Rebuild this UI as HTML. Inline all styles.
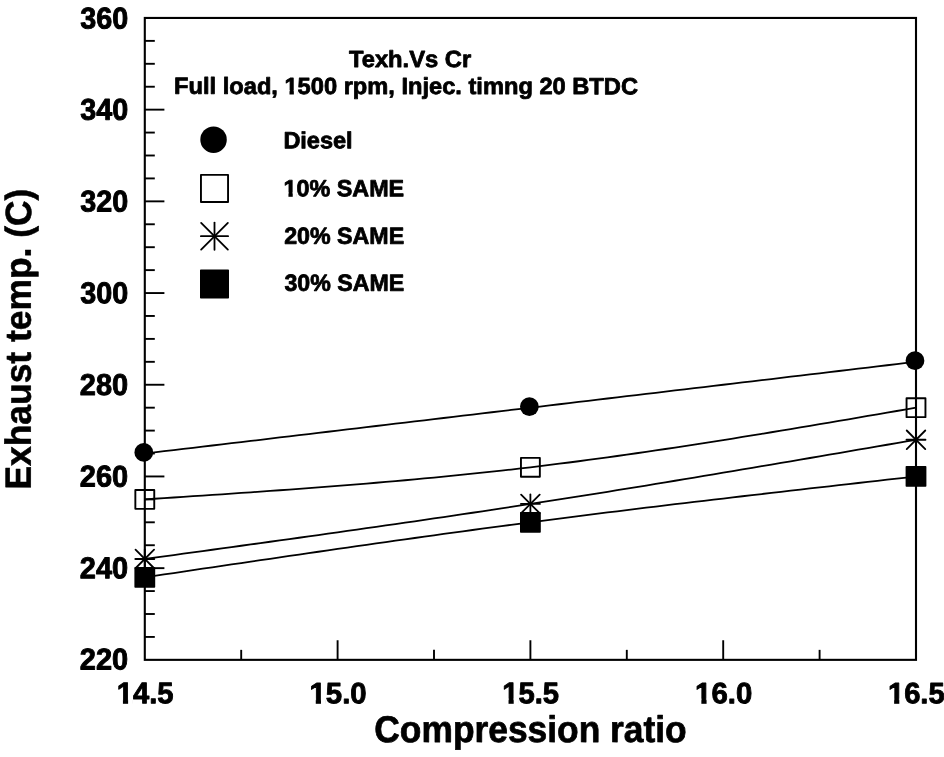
<!DOCTYPE html>
<html lang="en"><head><meta charset="utf-8"><title>Exhaust temp vs Compression ratio</title>
<style>html,body{margin:0;padding:0;background:#fff;}svg{will-change:transform}svg text{font-family:"Liberation Sans",sans-serif;font-weight:bold;}</style></head>
<body>
<svg width="944" height="757" viewBox="0 0 944 757" style="display:block">
<rect width="944" height="757" fill="#fff"/>
<g stroke="#000" stroke-width="2.1" fill="none" stroke-linecap="butt">
<rect x="144.8" y="17.95" width="771.2" height="641.9" stroke-linejoin="miter"/>
<line x1="144.8" y1="636.93" x2="154.8" y2="636.93" stroke-width="1.9"/>
<line x1="144.8" y1="614.00" x2="154.8" y2="614.00" stroke-width="1.9"/>
<line x1="144.8" y1="591.08" x2="154.8" y2="591.08" stroke-width="1.9"/>
<line x1="144.8" y1="568.15" x2="164.4" y2="568.15" stroke-width="1.9"/>
<line x1="144.8" y1="545.23" x2="154.8" y2="545.23" stroke-width="1.9"/>
<line x1="144.8" y1="522.30" x2="154.8" y2="522.30" stroke-width="1.9"/>
<line x1="144.8" y1="499.38" x2="154.8" y2="499.38" stroke-width="1.9"/>
<line x1="144.8" y1="476.45" x2="164.4" y2="476.45" stroke-width="1.9"/>
<line x1="144.8" y1="453.52" x2="154.8" y2="453.52" stroke-width="1.9"/>
<line x1="144.8" y1="430.60" x2="154.8" y2="430.60" stroke-width="1.9"/>
<line x1="144.8" y1="407.68" x2="154.8" y2="407.68" stroke-width="1.9"/>
<line x1="144.8" y1="384.75" x2="164.4" y2="384.75" stroke-width="1.9"/>
<line x1="144.8" y1="361.82" x2="154.8" y2="361.82" stroke-width="1.9"/>
<line x1="144.8" y1="338.90" x2="154.8" y2="338.90" stroke-width="1.9"/>
<line x1="144.8" y1="315.97" x2="154.8" y2="315.97" stroke-width="1.9"/>
<line x1="144.8" y1="293.05" x2="164.4" y2="293.05" stroke-width="1.9"/>
<line x1="144.8" y1="270.12" x2="154.8" y2="270.12" stroke-width="1.9"/>
<line x1="144.8" y1="247.20" x2="154.8" y2="247.20" stroke-width="1.9"/>
<line x1="144.8" y1="224.27" x2="154.8" y2="224.27" stroke-width="1.9"/>
<line x1="144.8" y1="201.35" x2="164.4" y2="201.35" stroke-width="1.9"/>
<line x1="144.8" y1="178.42" x2="154.8" y2="178.42" stroke-width="1.9"/>
<line x1="144.8" y1="155.50" x2="154.8" y2="155.50" stroke-width="1.9"/>
<line x1="144.8" y1="132.57" x2="154.8" y2="132.57" stroke-width="1.9"/>
<line x1="144.8" y1="109.65" x2="164.4" y2="109.65" stroke-width="1.9"/>
<line x1="144.8" y1="86.73" x2="154.8" y2="86.73" stroke-width="1.9"/>
<line x1="144.8" y1="63.80" x2="154.8" y2="63.80" stroke-width="1.9"/>
<line x1="144.8" y1="40.88" x2="154.8" y2="40.88" stroke-width="1.9"/>
<line x1="241.20" y1="659.85" x2="241.20" y2="649.85" stroke-width="1.9"/>
<line x1="337.60" y1="659.85" x2="337.60" y2="640.25" stroke-width="1.9"/>
<line x1="434.00" y1="659.85" x2="434.00" y2="649.85" stroke-width="1.9"/>
<line x1="530.40" y1="659.85" x2="530.40" y2="640.25" stroke-width="1.9"/>
<line x1="626.80" y1="659.85" x2="626.80" y2="649.85" stroke-width="1.9"/>
<line x1="723.20" y1="659.85" x2="723.20" y2="640.25" stroke-width="1.9"/>
<line x1="819.60" y1="659.85" x2="819.60" y2="649.85" stroke-width="1.9"/>
</g>
<polyline points="144.80,453.52 154.44,452.38 164.08,451.23 173.72,450.09 183.36,448.94 193.00,447.79 202.64,446.65 212.28,445.50 221.92,444.35 231.56,443.21 241.20,442.06 250.84,440.92 260.48,439.77 270.12,438.62 279.76,437.48 289.40,436.33 299.04,435.19 308.68,434.04 318.32,432.89 327.96,431.75 337.60,430.60 347.24,429.45 356.88,428.31 366.52,427.16 376.16,426.01 385.80,424.87 395.44,423.72 405.08,422.58 414.72,421.43 424.36,420.28 434.00,419.14 443.64,417.99 453.28,416.84 462.92,415.70 472.56,414.55 482.20,413.41 491.84,412.26 501.48,411.11 511.12,409.97 520.76,408.82 530.40,407.68 540.04,406.53 549.68,405.38 559.32,404.24 568.96,403.09 578.60,401.94 588.24,400.80 597.88,399.65 607.52,398.50 617.16,397.36 626.80,396.21 636.44,395.07 646.08,393.92 655.72,392.77 665.36,391.63 675.00,390.48 684.64,389.33 694.28,388.19 703.92,387.04 713.56,385.90 723.20,384.75 732.84,383.60 742.48,382.46 752.12,381.31 761.76,380.16 771.40,379.02 781.04,377.87 790.68,376.73 800.32,375.58 809.96,374.43 819.60,373.29 829.24,372.14 838.88,370.99 848.52,369.85 858.16,368.70 867.80,367.56 877.44,366.41 887.08,365.26 896.72,364.12 906.36,362.97 916.00,361.82" fill="none" stroke="#000" stroke-width="1.8"/>
<circle cx="143.80" cy="452.42" r="9.36" fill="#000"/>
<circle cx="529.40" cy="406.57" r="9.36" fill="#000"/>
<circle cx="915.00" cy="360.72" r="9.36" fill="#000"/>
<polyline points="144.80,499.38 154.44,498.74 164.08,498.11 173.72,497.48 183.36,496.85 193.00,496.21 202.64,495.57 212.28,494.93 221.92,494.28 231.56,493.62 241.20,492.96 250.84,492.30 260.48,491.62 270.12,490.94 279.76,490.25 289.40,489.56 299.04,488.85 308.68,488.13 318.32,487.40 327.96,486.66 337.60,485.91 347.24,485.14 356.88,484.36 366.52,483.57 376.16,482.76 385.80,481.93 395.44,481.09 405.08,480.24 414.72,479.36 424.36,478.47 434.00,477.56 443.64,476.63 453.28,475.68 462.92,474.71 472.56,473.72 482.20,472.70 491.84,471.67 501.48,470.61 511.12,469.52 520.76,468.41 530.40,467.28 540.04,466.12 549.68,464.94 559.32,463.73 568.96,462.50 578.60,461.24 588.24,459.96 597.88,458.66 607.52,457.34 617.16,456.00 626.80,454.64 636.44,453.25 646.08,451.85 655.72,450.44 665.36,449.00 675.00,447.55 684.64,446.08 694.28,444.59 703.92,443.10 713.56,441.58 723.20,440.06 732.84,438.52 742.48,436.97 752.12,435.40 761.76,433.83 771.40,432.24 781.04,430.65 790.68,429.05 800.32,427.43 809.96,425.81 819.60,424.19 829.24,422.56 838.88,420.92 848.52,419.27 858.16,417.62 867.80,415.97 877.44,414.32 887.08,412.66 896.72,411.00 906.36,409.34 916.00,407.68" fill="none" stroke="#000" stroke-width="1.8"/>
<rect x="135.35" y="489.93" width="18.90" height="18.90" fill="none" stroke="#000" stroke-width="1.9" stroke-linejoin="round"/>
<rect x="520.95" y="457.83" width="18.90" height="18.90" fill="none" stroke="#000" stroke-width="1.9" stroke-linejoin="round"/>
<rect x="906.55" y="398.23" width="18.90" height="18.90" fill="none" stroke="#000" stroke-width="1.9" stroke-linejoin="round"/>
<polyline points="144.80,558.98 154.44,557.66 164.08,556.34 173.72,555.02 183.36,553.70 193.00,552.38 202.64,551.06 212.28,549.74 221.92,548.42 231.56,547.09 241.20,545.76 250.84,544.43 260.48,543.10 270.12,541.76 279.76,540.43 289.40,539.09 299.04,537.74 308.68,536.39 318.32,535.04 327.96,533.69 337.60,532.33 347.24,530.97 356.88,529.60 366.52,528.23 376.16,526.85 385.80,525.47 395.44,524.08 405.08,522.68 414.72,521.28 424.36,519.88 434.00,518.47 443.64,517.05 453.28,515.62 462.92,514.19 472.56,512.75 482.20,511.31 491.84,509.85 501.48,508.39 511.12,506.92 520.76,505.45 530.40,503.96 540.04,502.47 549.68,500.96 559.32,499.45 568.96,497.93 578.60,496.41 588.24,494.87 597.88,493.33 607.52,491.78 617.16,490.23 626.80,488.66 636.44,487.10 646.08,485.52 655.72,483.94 665.36,482.35 675.00,480.76 684.64,479.16 694.28,477.56 703.92,475.95 713.56,474.34 723.20,472.72 732.84,471.10 742.48,469.48 752.12,467.85 761.76,466.22 771.40,464.58 781.04,462.94 790.68,461.30 800.32,459.65 809.96,458.01 819.60,456.35 829.24,454.70 838.88,453.05 848.52,451.39 858.16,449.73 867.80,448.08 877.44,446.42 887.08,444.76 896.72,443.09 906.36,441.43 916.00,439.77" fill="none" stroke="#000" stroke-width="1.8"/>
<g stroke="#000" stroke-width="1.8" stroke-linecap="round"><line x1="135.30" y1="558.98" x2="154.30" y2="558.98"/><line x1="144.80" y1="549.48" x2="144.80" y2="568.48"/><line x1="135.53" y1="549.71" x2="154.07" y2="568.25"/><line x1="135.53" y1="568.25" x2="154.07" y2="549.71"/></g>
<g stroke="#000" stroke-width="1.8" stroke-linecap="round"><line x1="520.90" y1="503.96" x2="539.90" y2="503.96"/><line x1="530.40" y1="494.46" x2="530.40" y2="513.46"/><line x1="521.13" y1="494.69" x2="539.67" y2="513.23"/><line x1="521.13" y1="513.23" x2="539.67" y2="494.69"/></g>
<g stroke="#000" stroke-width="1.8" stroke-linecap="round"><line x1="906.50" y1="439.77" x2="925.50" y2="439.77"/><line x1="916.00" y1="430.27" x2="916.00" y2="449.27"/><line x1="906.73" y1="430.50" x2="925.27" y2="449.04"/><line x1="906.73" y1="449.04" x2="925.27" y2="430.50"/></g>
<polyline points="144.80,577.32 154.44,575.89 164.08,574.45 173.72,573.02 183.36,571.59 193.00,570.16 202.64,568.73 212.28,567.30 221.92,565.88 231.56,564.45 241.20,563.03 250.84,561.61 260.48,560.19 270.12,558.77 279.76,557.36 289.40,555.95 299.04,554.54 308.68,553.14 318.32,551.74 327.96,550.34 337.60,548.95 347.24,547.56 356.88,546.18 366.52,544.80 376.16,543.43 385.80,542.06 395.44,540.70 405.08,539.34 414.72,537.99 424.36,536.64 434.00,535.30 443.64,533.97 453.28,532.64 462.92,531.32 472.56,530.01 482.20,528.71 491.84,527.41 501.48,526.12 511.12,524.84 520.76,523.57 530.40,522.30 540.04,521.04 549.68,519.80 559.32,518.56 568.96,517.32 578.60,516.10 588.24,514.88 597.88,513.67 607.52,512.47 617.16,511.27 626.80,510.09 636.44,508.90 646.08,507.73 655.72,506.56 665.36,505.39 675.00,504.23 684.64,503.08 694.28,501.93 703.92,500.79 713.56,499.65 723.20,498.52 732.84,497.39 742.48,496.26 752.12,495.14 761.76,494.02 771.40,492.90 781.04,491.79 790.68,490.68 800.32,489.58 809.96,488.48 819.60,487.38 829.24,486.28 838.88,485.18 848.52,484.08 858.16,482.99 867.80,481.90 877.44,480.81 887.08,479.72 896.72,478.63 906.36,477.54 916.00,476.45" fill="none" stroke="#000" stroke-width="1.8"/>
<rect x="135.20" y="567.72" width="19.20" height="19.20" fill="#000" stroke="#000" stroke-width="1.6" stroke-linejoin="round"/>
<rect x="520.80" y="512.70" width="19.20" height="19.20" fill="#000" stroke="#000" stroke-width="1.6" stroke-linejoin="round"/>
<rect x="906.40" y="466.85" width="19.20" height="19.20" fill="#000" stroke="#000" stroke-width="1.6" stroke-linejoin="round"/>
<circle cx="213.55" cy="139.70" r="13.23" fill="#000"/>
<rect x="200.95" y="174.85" width="27.10" height="27.10" fill="none" stroke="#000" stroke-width="1.9" stroke-linejoin="round"/>
<g stroke="#000" stroke-width="1.8" stroke-linecap="round"><line x1="200.90" y1="236.20" x2="228.10" y2="236.20"/><line x1="214.50" y1="222.60" x2="214.50" y2="249.80"/><line x1="201.13" y1="222.83" x2="227.87" y2="249.57"/><line x1="201.13" y1="249.57" x2="227.87" y2="222.83"/></g>
<rect x="200.80" y="270.35" width="27.40" height="27.40" fill="#000" stroke="#000" stroke-width="1.6" stroke-linejoin="round"/>
<g font-family="'Liberation Sans', sans-serif" font-weight="bold" fill="#000" stroke="#000" stroke-linejoin="round">
<text transform="translate(79.84,669.51) rotate(0.04) scale(0.9587,1)" font-size="30.20" stroke-width="0.94">220</text>
<text transform="translate(79.84,578.31) rotate(0.04) scale(0.9587,1)" font-size="30.20" stroke-width="0.94">240</text>
<text transform="translate(79.84,486.61) rotate(0.04) scale(0.9587,1)" font-size="30.20" stroke-width="0.94">260</text>
<text transform="translate(79.84,394.91) rotate(0.04) scale(0.9587,1)" font-size="30.20" stroke-width="0.94">280</text>
<text transform="translate(80.20,303.14) rotate(0.04) scale(0.9546,1)" font-size="30.09" stroke-width="0.93">300</text>
<text transform="translate(80.20,211.44) rotate(0.04) scale(0.9546,1)" font-size="30.09" stroke-width="0.93">320</text>
<text transform="translate(80.20,119.74) rotate(0.04) scale(0.9546,1)" font-size="30.09" stroke-width="0.93">340</text>
<text transform="translate(80.20,28.54) rotate(0.04) scale(0.9546,1)" font-size="30.09" stroke-width="0.93">360</text>
<text transform="translate(116.71,703.24) rotate(0.04) scale(0.9782,1)" font-size="29.83" stroke-width="0.89">14.5</text>
<text transform="translate(309.50,703.25) rotate(0.04) scale(0.9983,1)" font-size="29.42" stroke-width="0.88">15.0</text>
<text transform="translate(502.31,703.24) rotate(0.04) scale(0.9782,1)" font-size="29.83" stroke-width="0.89">15.5</text>
<text transform="translate(695.10,703.25) rotate(0.04) scale(0.9983,1)" font-size="29.42" stroke-width="0.88">16.0</text>
<text transform="translate(887.91,703.25) rotate(0.04) scale(0.9916,1)" font-size="29.42" stroke-width="0.88">16.5</text>
<text transform="translate(348.97,66.96) rotate(0.04) scale(1.0191,1)" font-size="23.30" stroke-width="0.79">Texh.Vs Cr</text>
<text transform="translate(174.11,93.84) rotate(0.04) scale(1.0154,1)" font-size="23.30" stroke-width="0.79">Full load, 1500 rpm, Injec. timng 20 BTDC</text>
<text transform="translate(283.41,148.18) rotate(0.04) scale(1.0074,1)" font-size="23.30" stroke-width="0.79">Diesel</text>
<text transform="translate(283.54,196.16) rotate(0.04) scale(1.0020,1)" font-size="23.30" stroke-width="0.79">10% SAME</text>
<text transform="translate(284.18,243.66) rotate(0.04) scale(0.9966,1)" font-size="23.30" stroke-width="0.79">20% SAME</text>
<text transform="translate(284.47,290.76) rotate(0.04) scale(0.9942,1)" font-size="23.30" stroke-width="0.79">30% SAME</text>
<text transform="translate(374.34,741.89) rotate(0.04) scale(0.9506,1)" font-size="37.20" stroke-width="0.74">Compression ratio</text>
<text transform="translate(30.70,489.61) rotate(-89.96) scale(0.9702,1)" font-size="36.50" stroke-width="0.58">Exhaust temp. (C)</text>
</g>
<rect transform="translate(116.71,703.25) scale(0.9782,1)" x="0.13" y="-4.69" width="6.23" height="6.44" fill="#fff"/>
<rect transform="translate(116.71,703.25) scale(0.9782,1)" x="11.65" y="-4.69" width="4.95" height="6.44" fill="#fff"/>
<rect transform="translate(309.50,703.26) scale(0.9983,1)" x="0.11" y="-4.64" width="6.16" height="6.39" fill="#fff"/>
<rect transform="translate(309.50,703.26) scale(0.9983,1)" x="11.50" y="-4.64" width="4.89" height="6.39" fill="#fff"/>
<rect transform="translate(502.31,703.25) scale(0.9782,1)" x="0.13" y="-4.69" width="6.23" height="6.44" fill="#fff"/>
<rect transform="translate(502.31,703.25) scale(0.9782,1)" x="11.65" y="-4.69" width="4.95" height="6.44" fill="#fff"/>
<rect transform="translate(695.10,703.26) scale(0.9983,1)" x="0.11" y="-4.64" width="6.16" height="6.39" fill="#fff"/>
<rect transform="translate(695.10,703.26) scale(0.9983,1)" x="11.50" y="-4.64" width="4.89" height="6.39" fill="#fff"/>
<rect transform="translate(887.91,703.26) scale(0.9916,1)" x="0.11" y="-4.64" width="6.16" height="6.39" fill="#fff"/>
<rect transform="translate(887.91,703.26) scale(0.9916,1)" x="11.50" y="-4.64" width="4.89" height="6.39" fill="#fff"/>
<rect transform="translate(174.11,94.00) scale(1.0154,1)" x="108.51" y="-3.97" width="5.12" height="5.67" fill="#fff"/>
<rect transform="translate(174.11,94.00) scale(1.0154,1)" x="117.92" y="-3.97" width="3.92" height="5.67" fill="#fff"/>
<rect transform="translate(283.54,196.20) scale(1.0020,1)" x="-0.23" y="-3.97" width="5.12" height="5.67" fill="#fff"/>
<rect transform="translate(283.54,196.20) scale(1.0020,1)" x="9.18" y="-3.97" width="3.92" height="5.67" fill="#fff"/>
</svg>
</body></html>
